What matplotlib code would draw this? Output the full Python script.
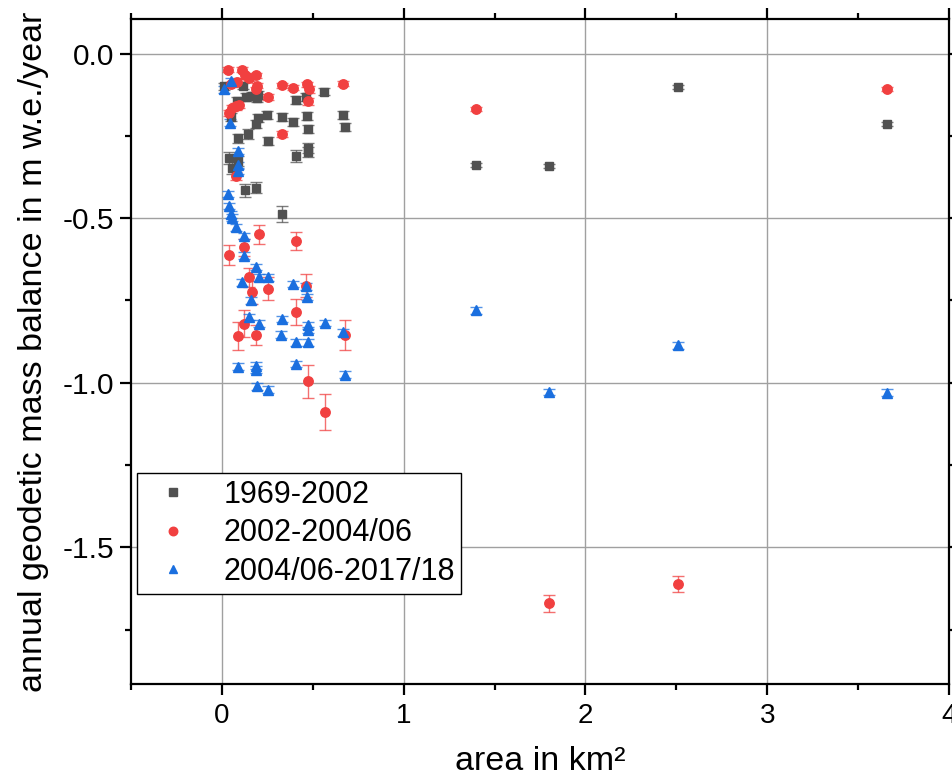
import numpy as np
import matplotlib
matplotlib.use('Agg')
import matplotlib.pyplot as plt
from matplotlib.ticker import MultipleLocator

plt.rcParams['font.family'] = ['Liberation Sans', 'DejaVu Sans']

# 1969-2002
x_69 = [0.013, 0.114, 0.13, 0.165, 0.195, 0.20, 0.082, 0.05, 0.20, 0.19, 0.25, 0.33,
        0.39, 0.47, 0.474, 0.667, 0.675, 0.56, 0.41, 0.46, 0.145, 0.086, 0.256, 0.04,
        0.086, 0.058, 0.408, 0.474, 0.474, 0.126, 0.187, 0.33, 1.396, 1.797, 2.51, 3.66]
y_69 = [-0.10, -0.099, -0.132, -0.13, -0.134, -0.125, -0.143, -0.193, -0.195, -0.215, -0.188, -0.192,
        -0.207, -0.189, -0.228, -0.187, -0.222, -0.116, -0.14, -0.133, -0.244, -0.258, -0.266, -0.318,
        -0.326, -0.347, -0.31, -0.288, -0.30, -0.415, -0.407, -0.488, -0.338, -0.342, -0.102, -0.215]
e_69 = [0.01, 0.01, 0.012, 0.012, 0.012, 0.012, 0.012, 0.012, 0.012, 0.012, 0.012, 0.012,
        0.012, 0.012, 0.012, 0.012, 0.012, 0.01, 0.012, 0.012, 0.015, 0.015, 0.012, 0.018,
        0.015, 0.018, 0.018, 0.015, 0.015, 0.02, 0.018, 0.025, 0.006, 0.006, 0.006, 0.006]

# 2002-2004/06
x_02 = [0.031, 0.11, 0.128, 0.19, 0.195, 0.33, 0.39, 0.47, 0.478, 0.474, 0.667, 0.254,
        0.33, 0.05, 0.085, 0.058, 0.077, 0.095, 0.04, 0.08, 0.203, 0.408, 0.123, 0.04,
        0.147, 0.46, 0.163, 0.254, 0.408, 0.123, 0.086, 0.187, 0.677, 0.472, 0.565,
        1.396, 1.80, 2.51, 3.66, 0.15, 0.186]
y_02 = [-0.0485, -0.049, -0.066, -0.066, -0.098, -0.096, -0.104, -0.094, -0.109, -0.145, -0.092, -0.132,
        -0.244, -0.094, -0.086, -0.165, -0.16, -0.155, -0.18, -0.373, -0.549, -0.569, -0.589, -0.611,
        -0.68, -0.705, -0.725, -0.715, -0.786, -0.82, -0.857, -0.855, -0.855, -0.996, -1.088,
        -0.168, -1.67, -1.612, -0.108, -0.075, -0.109]
e_02 = [0.008, 0.008, 0.008, 0.008, 0.008, 0.008, 0.008, 0.008, 0.01, 0.01, 0.008, 0.01,
        0.01, 0.008, 0.008, 0.01, 0.01, 0.01, 0.01, 0.012, 0.028, 0.028, 0.025, 0.03,
        0.03, 0.035, 0.035, 0.035, 0.04, 0.042, 0.043, 0.03, 0.045, 0.05, 0.055,
        0.006, 0.025, 0.025, 0.006, 0.008, 0.008]

# 2004/06-2017/18
x_04 = [0.013, 0.05, 0.046, 0.086, 0.086, 0.09, 0.035, 0.04, 0.05, 0.058, 0.077, 0.123,
        0.123, 0.19, 0.11, 0.205, 0.254, 0.39, 0.465, 0.468, 0.16, 0.15, 0.205, 0.33,
        0.325, 0.408, 0.474, 0.474, 0.474, 0.565, 0.667, 0.086, 0.19, 0.19, 0.408, 0.677,
        0.194, 0.254, 1.40, 1.80, 2.51, 3.66]
y_04 = [-0.109, -0.084, -0.21, -0.296, -0.34, -0.357, -0.427, -0.463, -0.488, -0.498, -0.528, -0.554,
        -0.614, -0.648, -0.695, -0.68, -0.68, -0.70, -0.707, -0.74, -0.75, -0.80, -0.82, -0.806,
        -0.854, -0.877, -0.826, -0.84, -0.877, -0.819, -0.847, -0.951, -0.948, -0.96, -0.943, -0.975,
        -1.011, -1.021, -0.78, -1.028, -0.886, -1.03]
e_04 = [0.01] * len(x_04)

c_69 = '#515151'
c_02 = '#F14040'
c_04 = '#1A6FDF'

fig = plt.figure(figsize=(9.53, 7.78), dpi=100)
ax = fig.add_axes([0.1375, 0.1208, 0.8583, 0.8548])

for xs, ys, es, col in [(x_69, y_69, e_69, c_69), (x_02, y_02, e_02, c_02), (x_04, y_04, e_04, c_04)]:
    ax.errorbar(xs, ys, yerr=es, fmt='none', ecolor=col, elinewidth=1.0, capsize=4.5,
                capthick=1.0, alpha=0.75, zorder=3)

ax.plot(x_69, y_69, 's', color=c_69, ms=6, ls='none', label='1969-2002', zorder=4)
ax.plot(x_02, y_02, 'o', color=c_02, ms=6.8, ls='none', label='2002-2004/06', zorder=4)
ax.plot(x_04, y_04, '^', color=c_04, ms=6.8, ls='none', label='2004/06-2017/18', zorder=4)

ax.set_xlim(-0.5, 4)
ax.set_ylim(-1.915, 0.105)
ax.xaxis.set_major_locator(MultipleLocator(1))
ax.xaxis.set_minor_locator(MultipleLocator(0.5))
ax.yaxis.set_major_locator(MultipleLocator(0.5))
ax.yaxis.set_minor_locator(MultipleLocator(0.25))
ax.set_yticks([0.0, -0.5, -1.0, -1.5])
ax.set_yticklabels(['0.0', '-0.5', '-1.0', '-1.5'])

ax.grid(True, which='major', color='#a0a0a0', linewidth=1.0)
ax.set_axisbelow(True)
for s in ax.spines.values():
    s.set_linewidth(1.6)
ax.tick_params(which='both', direction='out', top=True, right=True, width=1.6)
ax.tick_params(which='major', length=8)
ax.tick_params(axis='x', which='major', labelsize=20, pad=6)
ax.tick_params(axis='y', which='major', labelsize=21.5, pad=4)
ax.tick_params(which='minor', length=4.5)

ax.set_xlabel('area in km²', fontsize=24.5, labelpad=12)
ax.set_ylabel('annual geodetic mass balance in m w.e./year', fontsize=24.5, labelpad=10)

leg = ax.legend(loc='lower left', bbox_to_anchor=(0.0073, 0.136), borderaxespad=0,
                fontsize=22, frameon=True, fancybox=False, framealpha=1,
                edgecolor='black', handlelength=1.9, handletextpad=0.7,
                labelspacing=0.28, borderpad=0.22, markerscale=0.9)
leg.get_frame().set_linewidth(1.0)

fig.savefig('out.png', dpi=100)
